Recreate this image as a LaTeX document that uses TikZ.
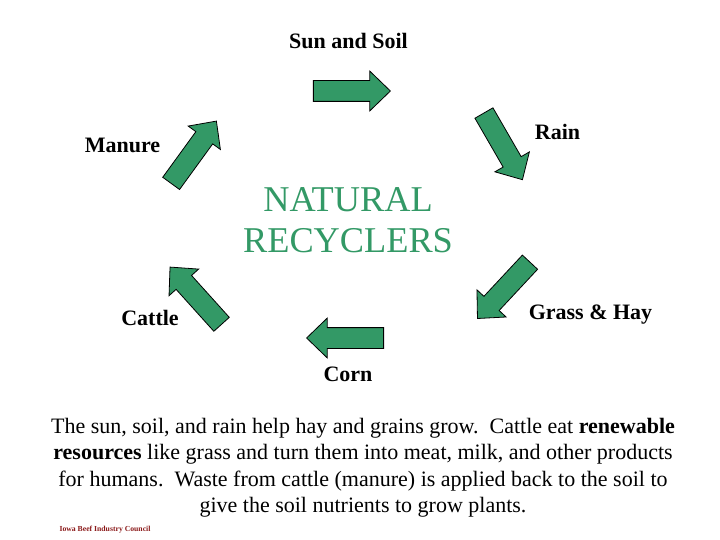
\documentclass[tikz,border=0pt]{standalone}
\usepackage{fontspec}
\setmainfont{Liberation Serif}
\usetikzlibrary{positioning}
\usetikzlibrary{shapes.arrows}
\definecolor{cycleGreen}{HTML}{339966}
\definecolor{creditRed}{HTML}{8B1A1A}
\tikzset{
  cycleArrow/.style={draw=black, fill=cycleGreen, line width=0.8pt, single arrow, single arrow head extend=9.5pt, single arrow tip angle=88, minimum height=77pt, text height=20pt, text depth=0pt, inner sep=0pt},
  cycleLabel/.style={font=\fontsize{22}{24}\selectfont\bfseries, inner sep=0pt},
  titleLabel/.style={font=\fontsize{36.3}{41}\selectfont, text=cycleGreen, align=center, inner sep=0pt},
  bodyLabel/.style={font=\fontsize{22}{26.3}\selectfont, align=center, inner sep=0pt},
  creditLabel/.style={font=\fontsize{7.7}{9}\selectfont\bfseries, text=creditRed, inner sep=0pt}
}

\begin{document}
\begin{tikzpicture}[x=1pt, y=-1pt]
    \useasboundingbox (0,0) rectangle (720,540);
    \node[cycleArrow] (sunArrow) at (346.5,91) {};
    \node[cycleArrow, rotate=-60] (rainArrow) at (500.5,141.7) {};
    \node[cycleArrow, rotate=227] (grassArrow) at (507.4,286.4) {};
    \node[cycleArrow, rotate=180] (cornArrow) at (350.5,338) {};
    \node[cycleArrow, rotate=132] (cattleArrow) at (199.4,299.7) {};
    \node[cycleArrow, rotate=54] (manureArrow) at (190.6,156.6) {};

    \node[cycleLabel] (sunSoil) at (348.5,41) {Sun and Soil};
    \node[cycleLabel] (rain) at (557.5,132) {Rain};
    \node[cycleLabel] (grassHay) at (590.5,315) {Grass \& Hay};
    \node[cycleLabel] (corn) at (348,374) {Corn};
    \node[cycleLabel] (cattle) at (150,318) {Cattle};
    \node[cycleLabel] (manure) at (122.5,145) {Manure};

    \node[titleLabel] (title) at (348,220) {NATURAL\\RECYCLERS};
    \node[bodyLabel] (body) at (363,467.7) {The sun, soil, and rain help hay and grains grow.\ \ Cattle eat \textbf{renewable}\\\textbf{resources} like grass and turn them into meat, milk, and other products\\for humans.\ \ Waste from cattle (manure) is applied back to the soil to\\give the soil nutrients to grow plants.};
    \node[creditLabel] (credit) at (105,530) {Iowa Beef Industry Council};
\end{tikzpicture}
\end{document}
